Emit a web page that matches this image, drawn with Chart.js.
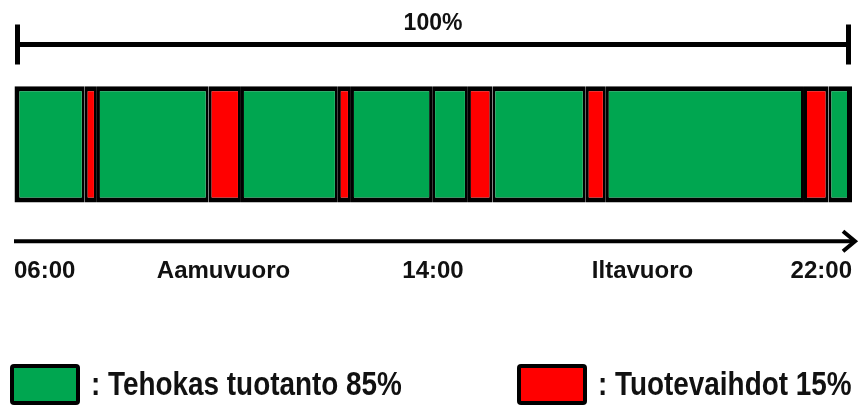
<!DOCTYPE html>
<html>
<head>
<meta charset="utf-8">
<title>Tuotanto ja tuotevaihdot</title>
<script src="https://cdn.jsdelivr.net/npm/chart.js@4/dist/chart.umd.min.js"></script>
<style>
  html, body { margin: 0; padding: 0; background: #fff; }
  #chart { display: block; }
</style>
</head>
<body>
<canvas id="chart" width="862" height="407"></canvas>
<script>
// minutes from 06:00, one entry per segment of the shift bar
const segMinutes = [81, 14, 128, 37, 111, 15, 93, 41, 28, 107, 23, 227, 28, 27];
const segKinds   = ['run','change','run','change','run','change','run','run','change','run','change','run','change','run'];
const kindColors = { run: '#00a650', change: '#ff0000' };

const timeTicks  = [0, 240, 480, 720, 960];
const tickLabels = ['06:00', 'Aamuvuoro', '14:00', 'Iltavuoro', '22:00'];

const legendKinds  = ['run', 'change'];
const legendLabels = [': Tehokas tuotanto 85%', ': Tuotevaihdot 15%'];
const topLabel = '100%';

const FONT = "'Liberation Sans', Arial, sans-serif";
const INK = '#111';

(function(){
  const last = segMinutes.length - 1;
  const datasets = segMinutes.map((m, i) => ({
    label: segKinds[i],
    data: [m],
    backgroundColor: kindColors[segKinds[i]],
    borderColor: '#000',
    borderWidth: { top: 5, bottom: 5, left: i === 0 ? 5 : 3, right: i === last ? 5 : 3 },
    borderSkipped: false,
    barPercentage: 0.6,
    categoryPercentage: 1
  }));

  // span line, time arrow and legend
  const decor = {
    id: 'decor',
    afterDraw(chart){
      const ctx = chart.ctx;
      const x = chart.scales.x;
      const area = chart.chartArea;
      const x0 = x.getPixelForValue(0);
      const x1 = x.getPixelForValue(960);
      ctx.save();
      ctx.strokeStyle = '#000';
      ctx.lineCap = 'butt';

      // 100% span
      const ly = area.top - 3;
      ctx.lineWidth = 5;
      ctx.beginPath();
      ctx.moveTo(x0 + 3, ly); ctx.lineTo(x1 - 3, ly);
      ctx.moveTo(x0 + 3.5, ly - 20); ctx.lineTo(x0 + 3.5, ly + 20);
      ctx.moveTo(x1 - 3.5, ly - 20); ctx.lineTo(x1 - 3.5, ly + 20);
      ctx.stroke();

      // time arrow
      const ay = area.bottom;
      ctx.lineWidth = 4;
      ctx.beginPath();
      ctx.moveTo(x0, ay); ctx.lineTo(x1 + 2, ay);
      ctx.stroke();
      ctx.lineJoin = 'miter';
      ctx.beginPath();
      ctx.moveTo(x1 - 9, ay - 10); ctx.lineTo(x1 + 3, ay); ctx.lineTo(x1 - 9, ay + 10);
      ctx.stroke();

      // legend (text squeezed a bit, the original uses a narrow face)
      const boxX = [10, 517];
      const boxY = 364, boxW = 70, boxH = 41;
      ctx.font = 'bold 34px ' + FONT;
      ctx.textBaseline = 'middle';
      ctx.textAlign = 'left';
      legendKinds.forEach((k, i) => {
        ctx.fillStyle = '#000';
        ctx.beginPath();
        ctx.roundRect(boxX[i], boxY, boxW, boxH, 4);
        ctx.fill();
        ctx.fillStyle = kindColors[k];
        ctx.fillRect(boxX[i] + 4, boxY + 4, boxW - 8, boxH - 8);
        ctx.save();
        ctx.translate(boxX[i] + boxW + 11, boxY + boxH / 2 + 1);
        ctx.scale(0.82, 1);
        ctx.fillStyle = INK;
        ctx.fillText(legendLabels[i], 0, 0);
        ctx.restore();
      });
      ctx.restore();
    }
  };

  new Chart(document.getElementById('chart'), {
    type: 'bar',
    data: { labels: [''], datasets },
    options: {
      indexAxis: 'y',
      responsive: false,
      animation: false,
      events: [],
      layout: { padding: { top: 10, left: 14, right: 10, bottom: 119 } },
      plugins: {
        legend: { display: false },
        tooltip: { enabled: false },
        title: {
          display: true,
          text: topLabel,
          color: INK,
          font: { family: FONT, size: 23, weight: 'bold' },
          padding: { top: 0, bottom: 10 }
        }
      },
      scales: {
        x: {
          stacked: true,
          min: 0,
          max: 960,
          grid: { display: true, drawOnChartArea: false, drawTicks: true, tickLength: 14, color: 'rgba(0,0,0,0)', tickColor: 'rgba(0,0,0,0)' },
          border: { display: false },
          afterBuildTicks: axis => { axis.ticks = timeTicks.map(v => ({ value: v })); },
          ticks: {
            align: 'inner',
            padding: 2,
            color: INK,
            font: { family: FONT, size: 24, weight: 'bold' },
            callback: v => tickLabels[timeTicks.indexOf(v)]
          }
        },
        y: { stacked: true, display: false }
      }
    },
    plugins: [decor]
  });
})();
</script>
</body>
</html>
